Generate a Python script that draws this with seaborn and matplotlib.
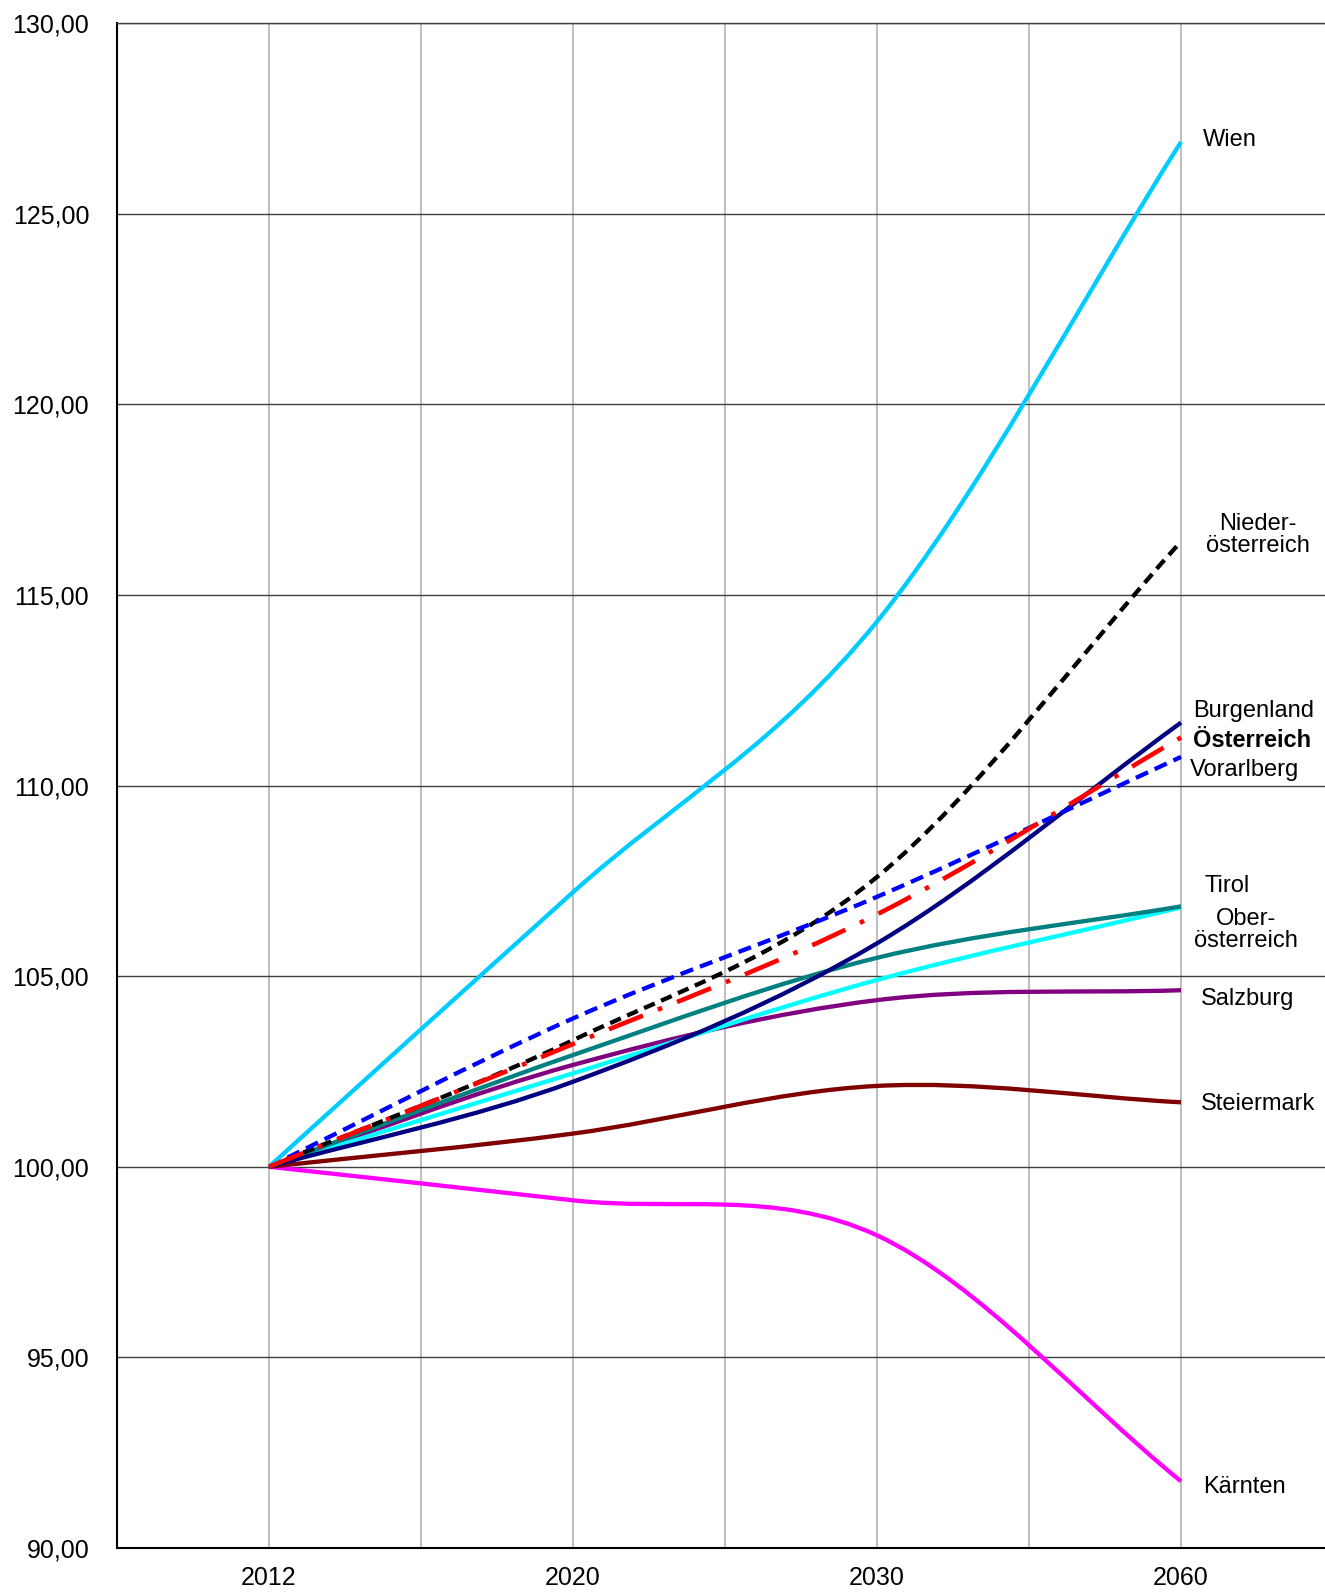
import numpy as np
import matplotlib.pyplot as plt
from matplotlib.path import Path
from matplotlib.patches import PathPatch
import seaborn as sns

# Bevölkerungsentwicklung (Index 2012 = 100)
years = ["2012", "2020", "2030", "2060"]

wien = [100.0, 107.2, 114.3, 126.88]
niederoesterreich = [100.0, 103.32, 107.6, 116.4]
burgenland = [100.0, 102.23, 105.86, 111.65]
oesterreich = [100.0, 103.22, 106.62, 111.26]
vorarlberg = [100.0, 103.89, 107.08, 110.75]
tirol = [100.0, 102.93, 105.48, 106.83]
oberoesterreich = [100.0, 102.45, 104.9, 106.8]
salzburg = [100.0, 102.67, 104.37, 104.63]
steiermark = [100.0, 100.87, 102.12, 101.69]
kaernten = [100.0, 99.12, 98.2, 91.75]

sns.set_style("white")
plt.rcParams["font.family"] = ["Liberation Sans", "DejaVu Sans"]
plt.rcParams["text.color"] = "black"
plt.rcParams["xtick.color"] = "black"
plt.rcParams["ytick.color"] = "black"

fig = plt.figure(figsize=(13.25, 15.92), dpi=100)
ax = fig.add_axes([117 / 1325, 1 - 1548 / 1592, 1 - 117 / 1325, (1548 - 23) / 1592])

pos = np.arange(len(years))


def smooth_path(vals):
    # geglättete Linie wie in Excel (Bezier durch die Datenpunkte)
    y = np.asarray(vals, dtype=float)
    m = np.empty(len(y))
    m[0] = y[1] - y[0]
    m[-1] = y[-1] - y[-2]
    m[1:-1] = (y[2:] - y[:-2]) / 2
    verts = [(pos[0], y[0])]
    codes = [Path.MOVETO]
    for i in range(len(y) - 1):
        verts += [(pos[i] + 1 / 3, y[i] + m[i] / 3),
                  (pos[i + 1] - 1 / 3, y[i + 1] - m[i + 1] / 3),
                  (pos[i + 1], y[i + 1])]
        codes += [Path.CURVE4] * 3
    return Path(verts, codes)


series = [
    (kaernten, "#FF00FF", "-", 3.1),
    (steiermark, "#800000", "-", 3.1),
    (salzburg, "#800080", "-", 3.1),
    (oberoesterreich, "#00FFFF", "-", 3.1),
    (tirol, "#008080", "-", 3.1),
    (burgenland, "#000080", "-", 3.1),
    (niederoesterreich, "black", (0, (2.7, 1.6)), 3.1),
    (vorarlberg, "#0000FF", (0, (3.1, 1.7)), 3.1),
    (wien, "#00CCFF", "-", 3.1),
    (oesterreich, "#FF0000", (0, (8.0, 3.5, 1.0, 3.5)), 3.3),
]
for vals, col, ls, lw in series:
    ax.add_patch(PathPatch(smooth_path(vals), facecolor="none", edgecolor=col,
                           lw=lw, linestyle=ls, capstyle="butt", zorder=3))

ax.set_xlim(-0.5, (1325 - 269) / 304)
ax.set_ylim(90, 130)

yt = np.arange(90, 131, 5)
ax.set_yticks(yt)
ax.set_yticklabels([f"{v:.2f}".replace(".", ",") for v in yt], fontsize=18)
ax.set_xticks(pos)
ax.set_xticklabels(years, fontsize=18)
ax.set_xticks([-0.5, 0.5, 1.5, 2.5], minor=True)

ax.tick_params(axis="x", which="major", length=0, pad=13)
ax.tick_params(axis="x", which="minor", length=7, width=1.2, color="black", direction="out")
ax.tick_params(axis="y", length=8, width=1.2, color="black", direction="out", pad=12)

ax.grid(axis="y", color="#404040", lw=1.0)
ax.grid(axis="x", which="both", color="#c0c0c0", lw=1.5)
ax.set_axisbelow(True)

for s in ["left", "bottom"]:
    ax.spines[s].set_color("black")
    ax.spines[s].set_linewidth(1.5)
ax.spines["top"].set_color("#404040")
ax.spines["top"].set_linewidth(1.0)
ax.spines["right"].set_visible(False)

# Beschriftung am rechten Rand
fs = 17
ax.text(3.072, 126.93, "Wien", fontsize=fs, va="center")
ax.text(3.253, 116.57, "Nieder-\nösterreich", fontsize=fs, va="center", ha="center", linespacing=1.0)
ax.text(3.039, 111.95, "Burgenland", fontsize=fs, va="center")
ax.text(3.039, 111.19, "Österreich", fontsize=fs, va="center", fontweight="bold")
ax.text(3.030, 110.40, "Vorarlberg", fontsize=fs, va="center")
ax.text(3.076, 107.36, "Tirol", fontsize=fs, va="center")
ax.text(3.214, 106.21, "Ober-\nösterreich", fontsize=fs, va="center", ha="center", linespacing=1.0)
ax.text(3.066, 104.40, "Salzburg", fontsize=fs, va="center")
ax.text(3.066, 101.64, "Steiermark", fontsize=fs, va="center")
ax.text(3.072, 91.60, "Kärnten", fontsize=fs, va="center")

fig.savefig("out.png", dpi=100)
